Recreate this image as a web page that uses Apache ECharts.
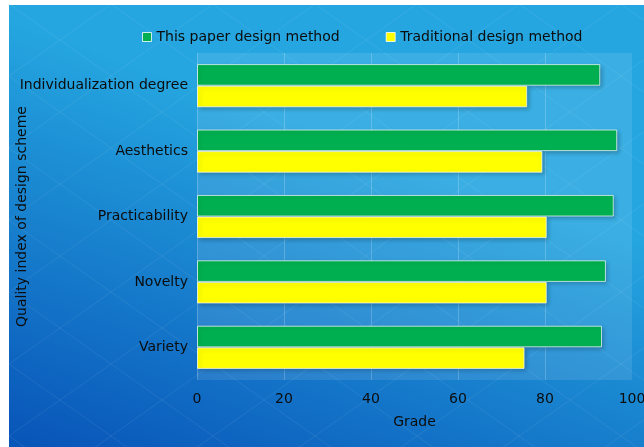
<!DOCTYPE html>
<html>
<head>
<meta charset="utf-8">
<script src="https://cdn.jsdelivr.net/npm/echarts@6/dist/echarts.min.js"></script>
<style>
  html, body { margin: 0; padding: 0; background: #ffffff; }
  #chart {
    position: absolute; left: 9px; top: 5px; width: 635px; height: 442px;
    background: linear-gradient(199.3deg, #25a6e0 224px, #0956b9 616px);
  }
</style>
</head>
<body>
<div id="chart"></div>
<script>
// Quality indices, listed top to bottom
var categories = ['Individualization degree', 'Aesthetics', 'Practicability', 'Novelty', 'Variety'];
var seriesNames = ['This paper design method', 'Traditional design method'];
var thisPaperScores = [92.7, 96.6, 95.8, 94.0, 93.1];
var traditionalScores = [75.9, 79.4, 80.4, 80.4, 75.3];
var gradeTicks = [0, 20, 40, 60, 80, 100];

var FONT = 'DejaVu Sans';
var TEXT = '#0c0c0c';

var chart = echarts.init(document.getElementById('chart'));
var W = chart.getWidth(), H = chart.getHeight();

// Faint diamond lattice decorating the backdrop
var lattice = [];
var slope = 36 / 51, step = 72;
for (var k = -8; k <= 8; k++) {
  var c = -1 + step * k;
  lattice.push({ type: 'line', silent: true, z: -1,
    shape: { x1: 0, y1: c, x2: W, y2: c + slope * W },
    style: { stroke: 'rgba(255,255,255,0.08)', lineWidth: 1 } });
}
for (var j = -2; j <= 14; j++) {
  var c2 = 71 + step * j;
  lattice.push({ type: 'line', silent: true, z: -1,
    shape: { x1: 0, y1: c2, x2: W, y2: c2 - slope * W },
    style: { stroke: 'rgba(255,255,255,0.08)', lineWidth: 1 } });
}

var gridLine = 'rgba(255,255,255,0.2)';
var barShadow = {
  borderColor: 'rgba(255,255,255,0.7)', borderWidth: 1,
  shadowColor: 'rgba(0,0,0,0.22)', shadowBlur: 4, shadowOffsetX: 2, shadowOffsetY: 2
};

chart.setOption({
  animation: false,
  textStyle: { fontFamily: FONT },
  graphic: lattice,
  legend: {
    left: 128, top: 20,
    itemWidth: 9, itemHeight: 9, itemGap: 46,
    icon: 'rect',
    itemStyle: { borderColor: 'rgba(255,255,255,0.8)', borderWidth: 1 },
    textStyle: { fontFamily: FONT, fontSize: 14, color: TEXT },
    data: seriesNames
  },
  grid: {
    left: 188, right: 12, top: 48, bottom: 67,
    outerBoundsMode: 'none', containLabel: false,
    show: true, backgroundColor: 'rgba(255,255,255,0.1)', borderWidth: 0
  },
  xAxis: {
    type: 'value', min: gradeTicks[0], max: gradeTicks[gradeTicks.length - 1], interval: 20,
    name: 'Grade', nameLocation: 'middle', nameGap: 35, nameMoveOverlap: false,
    nameTextStyle: { fontFamily: FONT, fontSize: 14, color: TEXT },
    axisLine: { show: false }, axisTick: { show: false },
    axisLabel: { fontFamily: FONT, fontSize: 14, color: TEXT, margin: 12 },
    splitLine: { show: true, lineStyle: { width: 1,
      color: [gridLine, gridLine, gridLine, gridLine, gridLine, 'rgba(0,0,0,0)'] } }
  },
  yAxis: {
    type: 'category', inverse: true, data: categories,
    name: 'Quality index of design scheme', nameLocation: 'middle', nameGap: 168, nameMoveOverlap: false,
    nameTextStyle: { fontFamily: FONT, fontSize: 14, color: TEXT, padding: [0, 0, 0, 0] },
    axisLine: { show: false }, axisTick: { show: false },
    axisLabel: { fontFamily: FONT, fontSize: 14, color: TEXT, margin: 9, padding: [4, 0, 0, 0] },
    splitLine: { show: false }
  },
  series: [
    { name: seriesNames[0], type: 'bar', data: thisPaperScores,
      barGap: '0%', barCategoryGap: '34%',
      itemStyle: Object.assign({ color: '#00b050' }, barShadow) },
    { name: seriesNames[1], type: 'bar', data: traditionalScores,
      barGap: '0%', barCategoryGap: '34%',
      itemStyle: Object.assign({ color: '#ffff00' }, barShadow) }
  ]
});
</script>
</body>
</html>
